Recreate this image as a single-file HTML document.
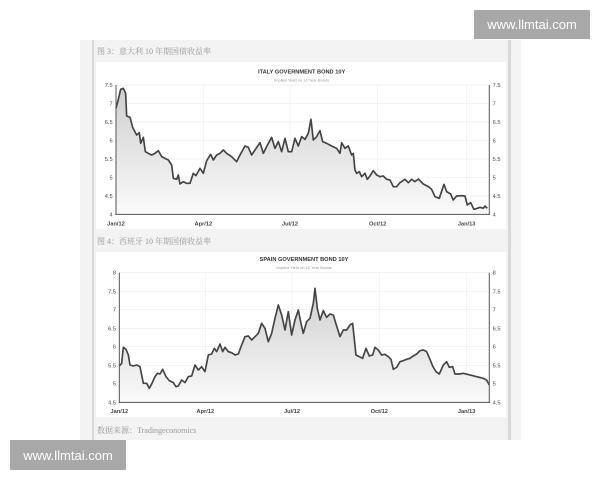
<!DOCTYPE html>
<html><head><meta charset="utf-8"><style>
html,body{margin:0;padding:0;background:#fff;width:600px;height:480px;overflow:hidden}
svg{display:block}
</style></head><body>
<svg width="600" height="480" viewBox="0 0 600 480" xmlns="http://www.w3.org/2000/svg" font-family="Liberation Sans, sans-serif">
<defs>
<linearGradient id="g" x1="0" y1="0" x2="0" y2="1"><stop offset="0" stop-color="#cfcfcf"/><stop offset="1" stop-color="#fafafa"/></linearGradient>
</defs>
<rect x="80" y="40" width="430" height="400" fill="#f3f3f3"/>
<line x1="93" y1="40" x2="93" y2="440" stroke="#c8c8c8" stroke-width="1.2"/>
<rect x="508" y="40" width="3" height="400" fill="#d8d8d8"/>
<rect x="511" y="40" width="10" height="400" fill="#f4f4f4"/>
<text x="97" y="54" font-size="8" fill="#999" font-family="Liberation Serif, Noto Serif CJK SC, serif">图 3：意大利 10 年期国债收益率</text>
<text x="97" y="244" font-size="8" fill="#999" font-family="Liberation Serif, Noto Serif CJK SC, serif">图 4：西班牙 10 年期国债收益率</text>
<text x="97" y="433" font-size="8" fill="#999" font-family="Liberation Serif, Noto Serif CJK SC, serif">数据来源：Tradingeconomics</text>
<rect x="96" y="62" width="410" height="167" fill="#fff"/>
<rect x="96" y="252" width="410" height="165" fill="#fff"/>

<!-- ITALY -->
<g transform="translate(80,40) scale(0.3333)">
<text x="665" y="100" font-size="17" font-weight="bold" text-anchor="middle" fill="#333">ITALY GOVERNMENT BOND 10Y</text>
<text x="665" y="124" font-size="12" text-anchor="middle" fill="#999">Implied Yield on 10 Year Bonds</text>
<g stroke="#eee" stroke-width="2">
<line x1="108" y1="135" x2="1228" y2="135"/><line x1="108" y1="190" x2="1228" y2="190"/><line x1="108" y1="246" x2="1228" y2="246"/><line x1="108" y1="301" x2="1228" y2="301"/><line x1="108" y1="357" x2="1228" y2="357"/><line x1="108" y1="412" x2="1228" y2="412"/><line x1="108" y1="468" x2="1228" y2="468"/>
<line x1="370" y1="135" x2="370" y2="523"/><line x1="630" y1="135" x2="630" y2="523"/><line x1="893" y1="135" x2="893" y2="523"/><line x1="1160" y1="135" x2="1160" y2="523"/>
</g>
<polygon fill="url(#g)" points="108,523 108,205 115,178 122,148 130,145 137,160 140,228 150,232 158,262 170,285 178,278 182,310 190,292 196,335 205,340 215,345 225,340 235,332 245,350 255,355 265,360 275,375 280,415 290,418 295,405 300,432 310,425 320,430 330,430 340,400 348,407 360,385 370,400 380,362 392,343 400,360 410,345 420,340 430,330 440,340 455,350 470,365 480,345 495,318 505,322 515,345 525,330 540,308 550,340 560,320 575,292 585,325 595,305 605,335 615,295 625,335 635,335 645,295 655,318 665,290 675,298 685,280 693,238 700,300 710,290 720,272 728,305 740,310 755,318 770,325 780,340 785,308 795,325 805,318 815,345 820,340 825,390 830,400 838,395 845,410 855,400 862,418 870,408 880,392 890,405 900,410 910,408 920,418 930,420 940,440 950,440 960,428 975,418 985,428 995,418 1005,425 1015,417 1030,432 1045,440 1055,448 1065,470 1078,475 1092,433 1100,455 1112,462 1120,480 1130,468 1145,467 1155,468 1162,495 1172,488 1182,508 1192,505 1200,502 1210,505 1215,498 1222,505 1222,523"/>
<polyline fill="none" stroke="#444" stroke-width="5" stroke-linejoin="round" points="108,205 115,178 122,148 130,145 137,160 140,228 150,232 158,262 170,285 178,278 182,310 190,292 196,335 205,340 215,345 225,340 235,332 245,350 255,355 265,360 275,375 280,415 290,418 295,405 300,432 310,425 320,430 330,430 340,400 348,407 360,385 370,400 380,362 392,343 400,360 410,345 420,340 430,330 440,340 455,350 470,365 480,345 495,318 505,322 515,345 525,330 540,308 550,340 560,320 575,292 585,325 595,305 605,335 615,295 625,335 635,335 645,295 655,318 665,290 675,298 685,280 693,238 700,300 710,290 720,272 728,305 740,310 755,318 770,325 780,340 785,308 795,325 805,318 815,345 820,340 825,390 830,400 838,395 845,410 855,400 862,418 870,408 880,392 890,405 900,410 910,408 920,418 930,420 940,440 950,440 960,428 975,418 985,428 995,418 1005,425 1015,417 1030,432 1045,440 1055,448 1065,470 1078,475 1092,433 1100,455 1112,462 1120,480 1130,468 1145,467 1155,468 1162,495 1172,488 1182,508 1192,505 1200,502 1210,505 1215,498 1222,505"/>
<g stroke="#555" stroke-width="3"><line x1="108" y1="135" x2="108" y2="525"/><line x1="1228" y1="135" x2="1228" y2="525"/><line x1="106" y1="523" x2="1230" y2="523"/></g>
<g font-size="17" fill="#444" text-anchor="end">
<text x="98" y="141">7.5</text><text x="98" y="196">7</text><text x="98" y="252">6.5</text><text x="98" y="307">6</text><text x="98" y="363">5.5</text><text x="98" y="418">5</text><text x="98" y="474">4.5</text><text x="98" y="529">4</text>
</g>
<g font-size="17" fill="#444"><text x="1238" y="141">7.5</text><text x="1238" y="196">7</text><text x="1238" y="252">6.5</text><text x="1238" y="307">6</text><text x="1238" y="363">5.5</text><text x="1238" y="418">5</text><text x="1238" y="474">4.5</text><text x="1238" y="529">4</text></g>
<g font-size="17" fill="#444" text-anchor="middle" font-weight="bold"><text x="108" y="556">Jan/12</text><text x="370" y="556">Apr/12</text><text x="630" y="556">Jul/12</text><text x="893" y="556">Oct/12</text><text x="1160" y="556">Jan/13</text></g>
</g>

<!-- SPAIN -->
<g transform="translate(80,230) scale(0.3333)">
<text x="672" y="93" font-size="17" font-weight="bold" text-anchor="middle" fill="#333">SPAIN GOVERNMENT BOND 10Y</text>
<text x="672" y="117" font-size="12" text-anchor="middle" fill="#999">Implied Yield on 10 Year Bonds</text>
<g stroke="#eee" stroke-width="2">
<line x1="118" y1="128" x2="1228" y2="128"/><line x1="118" y1="184" x2="1228" y2="184"/><line x1="118" y1="239" x2="1228" y2="239"/><line x1="118" y1="295" x2="1228" y2="295"/><line x1="118" y1="350" x2="1228" y2="350"/><line x1="118" y1="406" x2="1228" y2="406"/><line x1="118" y1="461" x2="1228" y2="461"/>
<line x1="376" y1="128" x2="376" y2="517"/><line x1="636" y1="128" x2="636" y2="517"/><line x1="898" y1="128" x2="898" y2="517"/><line x1="1160" y1="128" x2="1160" y2="517"/>
</g>
<polygon fill="url(#g)" points="118,517 118,408 125,400 130,352 138,358 145,375 150,405 160,408 170,405 180,410 190,460 200,460 208,475 215,462 225,440 232,430 240,432 248,418 258,440 268,452 280,458 288,470 295,468 305,450 315,458 325,440 335,438 345,405 355,420 365,410 375,425 385,375 395,372 403,355 410,365 420,342 428,365 435,352 445,365 455,368 465,375 475,372 485,345 495,320 505,318 515,330 525,320 535,310 545,280 555,295 565,335 575,310 585,265 595,225 605,255 615,300 625,245 635,315 645,270 655,240 663,280 670,310 680,275 690,265 700,220 705,175 712,235 720,270 730,242 740,262 750,252 760,255 770,288 780,320 790,300 800,300 810,285 818,280 828,375 838,380 848,385 858,355 868,378 878,375 885,352 895,360 905,375 915,373 925,380 933,388 940,418 950,412 960,395 970,392 980,388 990,385 1000,378 1010,372 1020,362 1030,360 1040,365 1050,388 1058,408 1068,425 1078,432 1090,405 1100,395 1108,412 1118,410 1125,432 1140,432 1150,430 1170,435 1190,440 1210,445 1220,450 1228,465 1228,517"/>
<polyline fill="none" stroke="#444" stroke-width="5" stroke-linejoin="round" points="118,408 125,400 130,352 138,358 145,375 150,405 160,408 170,405 180,410 190,460 200,460 208,475 215,462 225,440 232,430 240,432 248,418 258,440 268,452 280,458 288,470 295,468 305,450 315,458 325,440 335,438 345,405 355,420 365,410 375,425 385,375 395,372 403,355 410,365 420,342 428,365 435,352 445,365 455,368 465,375 475,372 485,345 495,320 505,318 515,330 525,320 535,310 545,280 555,295 565,335 575,310 585,265 595,225 605,255 615,300 625,245 635,315 645,270 655,240 663,280 670,310 680,275 690,265 700,220 705,175 712,235 720,270 730,242 740,262 750,252 760,255 770,288 780,320 790,300 800,300 810,285 818,280 828,375 838,380 848,385 858,355 868,378 878,375 885,352 895,360 905,375 915,373 925,380 933,388 940,418 950,412 960,395 970,392 980,388 990,385 1000,378 1010,372 1020,362 1030,360 1040,365 1050,388 1058,408 1068,425 1078,432 1090,405 1100,395 1108,412 1118,410 1125,432 1140,432 1150,430 1170,435 1190,440 1210,445 1220,450 1228,465"/>
<g stroke="#555" stroke-width="3"><line x1="118" y1="128" x2="118" y2="519"/><line x1="1228" y1="128" x2="1228" y2="519"/><line x1="116" y1="517" x2="1230" y2="517"/></g>
<g font-size="17" fill="#444" text-anchor="end">
<text x="108" y="134">8</text><text x="108" y="190">7.5</text><text x="108" y="245">7</text><text x="108" y="301">6.5</text><text x="108" y="356">6</text><text x="108" y="412">5.5</text><text x="108" y="467">5</text><text x="108" y="523">4.5</text>
</g>
<g font-size="17" fill="#444"><text x="1238" y="134">8</text><text x="1238" y="190">7.5</text><text x="1238" y="245">7</text><text x="1238" y="301">6.5</text><text x="1238" y="356">6</text><text x="1238" y="412">5.5</text><text x="1238" y="467">5</text><text x="1238" y="523">4.5</text></g>
<g font-size="17" fill="#444" text-anchor="middle" font-weight="bold"><text x="118" y="549">Jan/12</text><text x="376" y="549">Apr/12</text><text x="636" y="549">Jul/12</text><text x="898" y="549">Oct/12</text><text x="1160" y="549">Jan/13</text></g>
</g>

<rect x="474" y="10" width="116" height="29" fill="#a8a8a8"/>
<text x="532" y="29" font-size="13" fill="#fff" text-anchor="middle">www.llmtai.com</text>
<rect x="10" y="440" width="116" height="30" fill="#a8a8a8"/>
<text x="68" y="460" font-size="13" fill="#fff" text-anchor="middle">www.llmtai.com</text>
</svg>
</body></html>
